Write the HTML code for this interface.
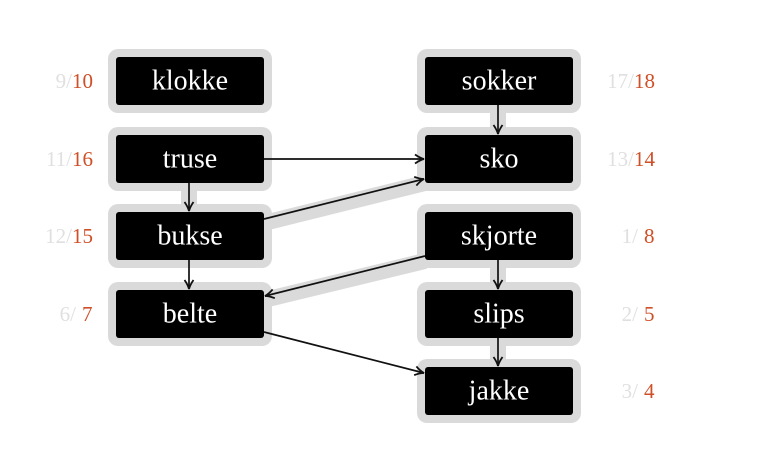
<!DOCTYPE html>
<html><head><meta charset="utf-8"><style>
body{margin:0;background:#fff}
svg{display:block}
.n{font-family:"Liberation Serif",serif;font-size:28px;fill:#fff;text-anchor:middle;dominant-baseline:central}
.l{font-family:"Liberation Serif",serif;font-size:21px;dominant-baseline:central}
.g{fill:#e0e0e0}.o{fill:#cf4f27}
</style></head><body>
<svg width="783" height="462" viewBox="0 0 783 462">
<defs><marker id="a" markerWidth="12" markerHeight="12" refX="10" refY="6" orient="auto" markerUnits="userSpaceOnUse"><path d="M1,1.5 Q6,5 10,6 Q6,7 1,10.5" fill="none" stroke="#111" stroke-width="1.8"/></marker></defs>
<g stroke="#dadada" stroke-width="16" fill="none">
<line x1="189" y1="170" x2="189" y2="230"/>
<line x1="264" y1="223" x2="425" y2="183"/>
<line x1="425" y1="261" x2="264" y2="300"/>
<line x1="498" y1="90" x2="498" y2="150"/>
<line x1="498" y1="250" x2="498" y2="300"/>
<line x1="498" y1="325" x2="498" y2="380"/>
</g>
<g fill="#dadada">
<rect x="108" y="49" width="164" height="64" rx="10"/>
<rect x="108" y="127" width="164" height="64" rx="10"/>
<rect x="108" y="204" width="164" height="64" rx="10"/>
<rect x="108" y="282" width="164" height="64" rx="10"/>
<rect x="417" y="49" width="164" height="64" rx="10"/>
<rect x="417" y="127" width="164" height="64" rx="10"/>
<rect x="417" y="204" width="164" height="64" rx="10"/>
<rect x="417" y="282" width="164" height="64" rx="10"/>
<rect x="417" y="359" width="164" height="64" rx="10"/>
</g>
<g fill="#000">
<rect x="116" y="57" width="148" height="48" rx="3"/>
<rect x="116" y="135" width="148" height="48" rx="3"/>
<rect x="116" y="212" width="148" height="48" rx="3"/>
<rect x="116" y="290" width="148" height="48" rx="3"/>
<rect x="425" y="57" width="148" height="48" rx="3"/>
<rect x="425" y="135" width="148" height="48" rx="3"/>
<rect x="425" y="212" width="148" height="48" rx="3"/>
<rect x="425" y="290" width="148" height="48" rx="3"/>
<rect x="425" y="367" width="148" height="48" rx="3"/>
</g>
<g stroke="#111" stroke-width="1.7" marker-end="url(#a)">
<line x1="264" y1="159" x2="424" y2="159"/>
<line x1="264" y1="219" x2="424" y2="179"/>
<line x1="425" y1="256" x2="265" y2="296"/>
<line x1="264" y1="332" x2="424" y2="373"/>
<line x1="189" y1="183" x2="189" y2="211"/>
<line x1="189" y1="260" x2="189" y2="289"/>
<line x1="498" y1="105" x2="498" y2="134"/>
<line x1="498" y1="260" x2="498" y2="289"/>
<line x1="498" y1="338" x2="498" y2="366"/>
</g>
<text class="n" x="190" y="81">klokke</text>
<text class="n" x="190" y="159">truse</text>
<text class="n" x="190" y="236">bukse</text>
<text class="n" x="190" y="314">belte</text>
<text class="n" x="499" y="81">sokker</text>
<text class="n" x="499" y="159">sko</text>
<text class="n" x="499" y="236">skjorte</text>
<text class="n" x="499" y="314">slips</text>
<text class="n" x="499" y="391">jakke</text>
<g class="l" text-anchor="end">
<text x="93" y="81"><tspan class="g">9/</tspan><tspan class="o">10</tspan></text>
<text x="93" y="159"><tspan class="g">11/</tspan><tspan class="o">16</tspan></text>
<text x="93" y="236"><tspan class="g">12/</tspan><tspan class="o">15</tspan></text>
<text x="655" y="81"><tspan class="g">17/</tspan><tspan class="o">18</tspan></text>
<text x="655" y="159"><tspan class="g">13/</tspan><tspan class="o">14</tspan></text>
<text x="76" y="314" class="g">6/</text>
<text x="638" y="236" class="g">1/</text>
<text x="638" y="314" class="g">2/</text>
<text x="638" y="391" class="g">3/</text>
</g>
<g class="l" text-anchor="start">
<text x="82" y="314" class="o">7</text>
<text x="644" y="236" class="o">8</text>
<text x="644" y="314" class="o">5</text>
<text x="644" y="391" class="o">4</text>
</g>
</svg>
</body></html>
